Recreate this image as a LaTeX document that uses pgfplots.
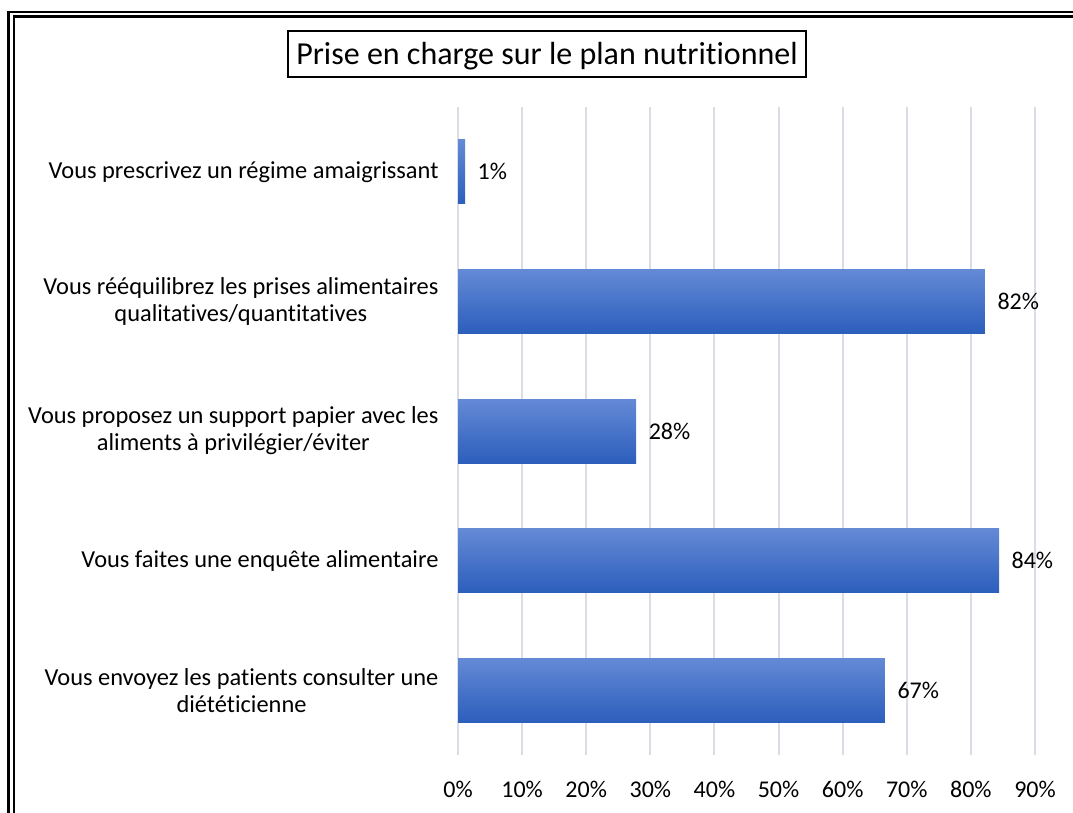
\documentclass[border=0pt]{standalone}
\usepackage{fontspec}
\setmainfont{Carlito}[Ligatures=NoCommon]
\usepackage{pgfplots}
\pgfplotsset{compat=1.18}
\definecolor{bartop}{RGB}{100,138,214}
\definecolor{barbot}{RGB}{44,94,188}
\definecolor{gridc}{RGB}{217,222,230}

\begin{document}
\begin{tikzpicture}[x=1pt,y=1pt]
\useasboundingbox (0,0) rectangle (1073,812);
\clip (0,0) rectangle (1073,812);
\fill[white] (0,0) rectangle (1073,812);
% double frame, right and bottom run off the picture
\draw[line width=2.4pt] (8.5,800) rectangle (1090,-20);
\draw[line width=2.4pt] (14,795.5) rectangle (1085,-15);
% boxed title
\draw[line width=1.8pt] (288,781) rectangle (806,735);
\node[font=\fontsize{32}{36}\selectfont] at (547,756) {Prise en charge sur le plan nutritionnel};

\begin{axis}[
  at={(458pt,57pt)}, anchor=south west,
  scale only axis, width=577pt, height=648pt,
  xbar, bar width=64pt, bar shift=0pt,
  xmin=0, xmax=90, ymin=-0.5, ymax=4.5,
  axis line style={draw=none},
  xtick={0,10,...,90},
  xticklabel={\pgfmathprintnumber{\tick}\%},
  xmajorgrids, grid style={draw=gridc, line width=2pt},
  major tick length=0pt,
  ytick={0,1,2,3,4},
  yticklabels={{Vous envoyez les patients consulter une\\diététicienne},
               {Vous faites une enquête alimentaire},
               {Vous proposez un support papier avec les\\aliments à privilégier/éviter},
               {Vous rééquilibrez les prises alimentaires\\qualitatives/quantitatives},
               {Vous prescrivez un régime amaigrissant}},
  yticklabel style={align=center, font=\fontsize{24.4}{27}\selectfont, xshift=-16pt},
  xticklabel style={font=\fontsize{24}{28}\selectfont, yshift=-23pt},
  /pgf/number format/assume math mode=true,
  point meta=explicit symbolic,
  nodes near coords,
  nodes near coords style={anchor=west, xshift=9pt, font=\fontsize{24}{28}\selectfont, black},
  every axis plot/.append style={draw=none, top color=bartop, bottom color=barbot},
  clip=false,
]
\addplot coordinates {(66.6,0) [67\%]};
\addplot coordinates {(84.4,1) [84\%]};
\addplot coordinates {(27.8,2) [28\%]};
\addplot coordinates {(82.2,3) [82\%]};
\addplot coordinates {(1.1,4) [1\%]};
\end{axis}
\end{tikzpicture}
\end{document}
